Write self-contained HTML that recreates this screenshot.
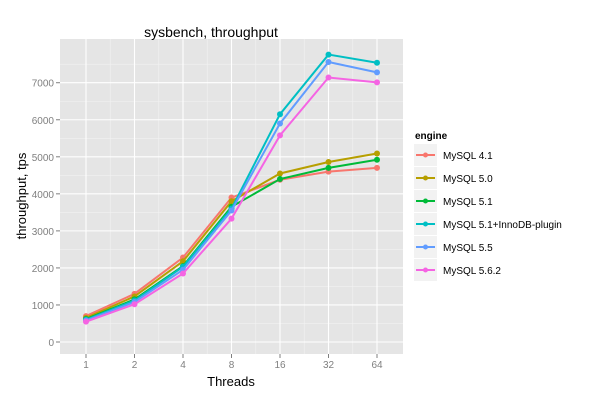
<!DOCTYPE html>
<html><head><meta charset="utf-8"><style>body{margin:0;background:#fff}svg{display:block}text{font-family:"Liberation Sans",sans-serif}</style></head>
<body>
<svg id="s" width="600" height="400" xmlns="http://www.w3.org/2000/svg">
<rect x="0" y="0" width="600" height="400" fill="#fff"/>
<rect x="60" y="39" width="343" height="315" fill="#e5e5e5"/>
<g id="g"></g>
<text x="211" y="37" font-size="14" text-anchor="middle">sysbench, throughput</text>
<text x="231" y="386" font-size="13" text-anchor="middle">Threads</text>
<text transform="translate(26,196) rotate(-90)" font-size="13" text-anchor="middle">throughput, tps</text>
<text x="415" y="139" font-size="10" font-weight="bold">engine</text>
</svg>
<script>
var g=document.getElementById('g'),ns='http://www.w3.org/2000/svg';
function el(t,a){var e=document.createElementNS(ns,t);for(var k in a)e.setAttribute(k,a[k]);g.appendChild(e);return e;}
function Y(v){return 342-v*0.03704;}
var xs=[86,134.5,183,231.5,280,328.5,377],lab=['1','2','4','8','16','32','64'];
for(var v=500;v<8000;v+=1000)el('line',{x1:60,x2:403,y1:Y(v),y2:Y(v),stroke:'#f2f2f2','stroke-width':0.6});
for(var i=0;i<6;i++){var m=(xs[i]+xs[i+1])/2;el('line',{x1:m,x2:m,y1:39,y2:354,stroke:'#f2f2f2','stroke-width':0.6});}
for(var v=0;v<8000;v+=1000){el('line',{x1:60,x2:403,y1:Y(v),y2:Y(v),stroke:'#fff','stroke-width':1.1});
el('line',{x1:56,x2:60,y1:Y(v),y2:Y(v),stroke:'#7f7f7f'});
var t=el('text',{x:54,y:Y(v)+4,'font-size':10,'text-anchor':'end',fill:'#7f7f7f'});t.textContent=v;}
xs.forEach(function(x,i){el('line',{x1:x,x2:x,y1:39,y2:354,stroke:'#fff','stroke-width':1.1});
el('line',{x1:x,x2:x,y1:354,y2:358,stroke:'#7f7f7f'});
var t=el('text',{x:x,y:368,'font-size':10,'text-anchor':'middle',fill:'#7f7f7f'});t.textContent=lab[i];});
var S=[['MySQL 4.1','#F8766D',[700,1300,2280,3900,4380,4600,4700]],
['MySQL 5.0','#B79F00',[650,1230,2180,3800,4550,4860,5090]],
['MySQL 5.1','#00BA38',[620,1150,2050,3650,4400,4700,4920]],
['MySQL 5.1+InnoDB-plugin','#00BFC4',[600,1120,2030,3600,6150,7760,7540]],
['MySQL 5.5','#619CFF',[580,1080,1950,3550,5900,7560,7280]],
['MySQL 5.6.2','#F564E3',[550,1020,1850,3330,5580,7140,7010]]];
S.forEach(function(s,j){var p=s[2].map(function(v,i){return xs[i]+','+Y(v);}).join(' ');
el('polyline',{points:p,fill:'none',stroke:s[1],'stroke-width':2});
s[2].forEach(function(v,i){el('circle',{cx:xs[i],cy:Y(v),r:3,fill:s[1]});});
var cy=155+j*23;
el('rect',{x:414,y:cy-11,width:23,height:22,fill:'#f2f2f2'});
el('line',{x1:416,x2:435,y1:cy,y2:cy,stroke:s[1],'stroke-width':2});
el('circle',{cx:425.5,cy:cy,r:2.5,fill:s[1]});
var t=el('text',{x:443,y:cy+4,'font-size':10});t.textContent=s[0];});
</script>
</body></html>
